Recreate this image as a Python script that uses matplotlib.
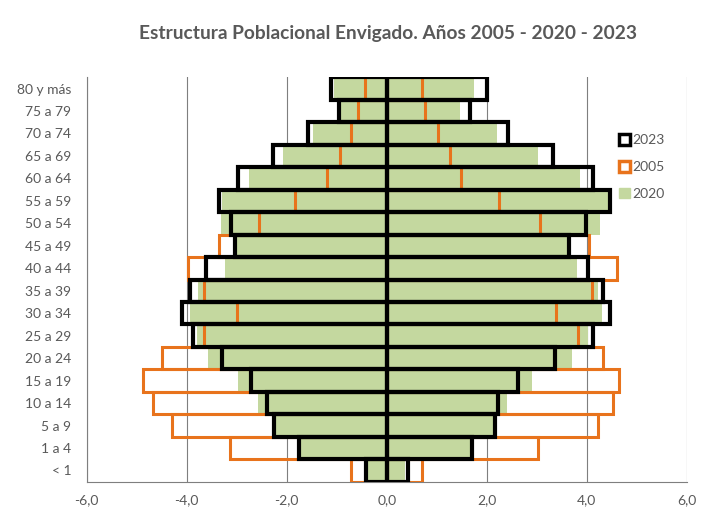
import matplotlib
matplotlib.use("Agg")
import matplotlib.pyplot as plt
from matplotlib.patches import Patch
from matplotlib.ticker import FuncFormatter

plt.rcParams['font.family'] = ['Lato', 'DejaVu Sans']

# age groups, bottom to top
grupos = ["< 1", "1 a 4", "5 a 9", "10 a 14", "15 a 19", "20 a 24", "25 a 29",
          "30 a 34", "35 a 39", "40 a 44", "45 a 49", "50 a 54", "55 a 59",
          "60 a 64", "65 a 69", "70 a 74", "75 a 79", "80 y más"]

# men (left side, negative %)
hombres_2005 = [-0.71, -3.13, -4.30, -4.67, -4.88, -4.50, -3.65, -2.99, -3.65,
                -3.98, -3.35, -2.55, -1.83, -1.20, -0.93, -0.71, -0.57, -0.43]
hombres_2020 = [-0.38, -1.80, -2.30, -2.57, -2.97, -3.57, -3.80, -3.93, -3.77,
                -3.23, -3.00, -3.31, -3.30, -2.75, -2.08, -1.47, -0.93, -1.05]
hombres_2023 = [-0.41, -1.75, -2.25, -2.40, -2.72, -3.30, -3.87, -4.10, -3.93,
                -3.61, -3.03, -3.12, -3.35, -2.98, -2.28, -1.57, -0.95, -1.11]

# women (right side, positive %)
mujeres_2005 = [0.70, 3.03, 4.23, 4.52, 4.65, 4.33, 3.83, 3.39, 4.10,
                4.61, 4.05, 3.07, 2.25, 1.48, 1.27, 1.02, 0.77, 0.70]
mujeres_2020 = [0.37, 1.67, 2.13, 2.40, 2.90, 3.70, 4.03, 4.30, 4.23,
                3.80, 3.61, 4.27, 4.43, 3.87, 3.03, 2.20, 1.47, 1.75]
mujeres_2023 = [0.43, 1.70, 2.17, 2.23, 2.63, 3.37, 4.13, 4.47, 4.32,
                4.03, 3.65, 3.99, 4.47, 4.12, 3.32, 2.43, 1.67, 2.00]

verde = '#c4d89f'
naranja = '#e8731c'
gris = '#595959'

fig = plt.figure(figsize=(7.02, 5.14), dpi=100)
ax = fig.add_axes([0.1235, 0.0628, 0.8547, 0.7868])

y = range(len(grupos))

# green filled 2020 at the back
ax.barh(y, hombres_2020, height=1, color=verde, zorder=2)
ax.barh(y, mujeres_2020, height=1, color=verde, zorder=2)
# orange outline 2005
ax.barh(y, hombres_2005, height=1, facecolor='none', edgecolor=naranja, lw=2.2, zorder=3)
ax.barh(y, mujeres_2005, height=1, facecolor='none', edgecolor=naranja, lw=2.2, zorder=3)
# black outline 2023 on top
ax.barh(y, hombres_2023, height=1, facecolor='none', edgecolor='black', lw=3.0, zorder=4)
ax.barh(y, mujeres_2023, height=1, facecolor='none', edgecolor='black', lw=3.0, zorder=4)

ax.set_xlim(-6, 6)
ax.set_ylim(-0.5, len(grupos) - 0.5)
ax.set_xticks([-6, -4, -2, 0, 2, 4, 6])
ax.xaxis.set_major_formatter(FuncFormatter(lambda v, p: f"{v:.1f}".replace('.', ',')))
ax.set_yticks(list(y))
ax.set_yticklabels(grupos)
ax.tick_params(axis='both', length=0, labelsize=10, colors=gris)
ax.tick_params(axis='y', pad=11)
ax.tick_params(axis='x', pad=9)

ax.grid(axis='x', color='#7f7f7f', lw=0.8, zorder=1)
for s in ['top', 'right']:
    ax.spines[s].set_visible(False)
ax.spines['left'].set_color('#7f7f7f')
ax.spines['bottom'].set_color('#7f7f7f')

fig.suptitle("Estructura Poblacional Envigado. Años 2005 - 2020 - 2023",
             x=0.552, y=0.952, fontsize=13.8, fontweight='bold', color=gris)

handles = [Patch(facecolor='white', edgecolor='black', lw=2.5),
           Patch(facecolor='white', edgecolor=naranja, lw=2.5),
           Patch(facecolor=verde, edgecolor=verde)]
ax.legend(handles, ['2023', '2005', '2020'], loc='upper left',
          bbox_to_anchor=(0.866, 0.89), frameon=False, fontsize=10,
          labelcolor=gris, handlelength=0.8, handleheight=0.8,
          handletextpad=0.2, labelspacing=1.05)

fig.savefig("out.png", dpi=100)
